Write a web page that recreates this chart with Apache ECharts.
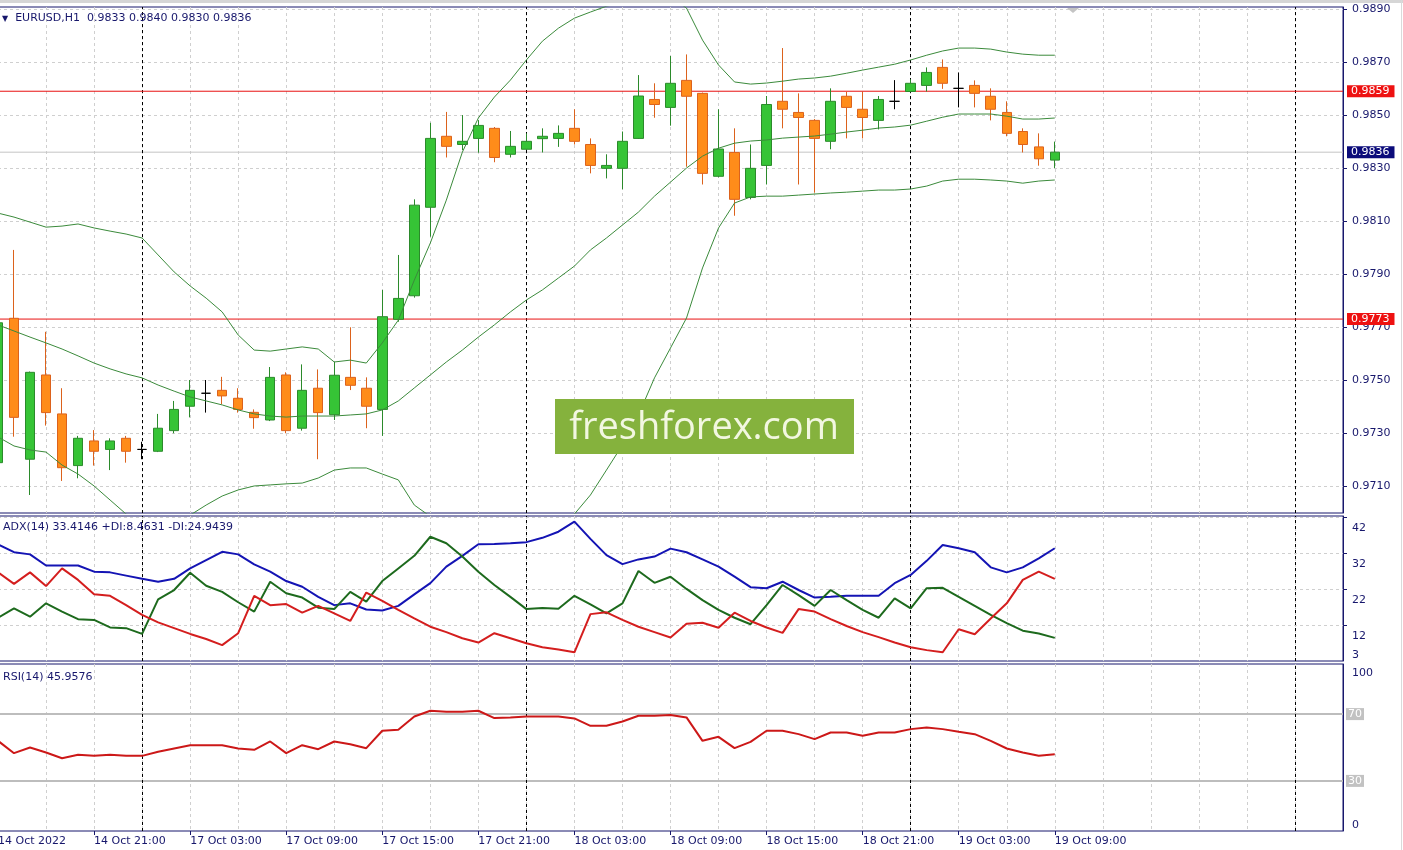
<!DOCTYPE html>
<html><head><meta charset="utf-8">
<script src="https://cdn.jsdelivr.net/npm/echarts@6/dist/echarts.min.js"></script>
<style>html,body{margin:0;padding:0;background:#fff}#c{width:1403px;height:850px}</style>
</head><body><div id="c"></div>
<script>
const categories = [
'14 Oct 15:00','14 Oct 16:00','14 Oct 17:00','14 Oct 18:00','14 Oct 19:00','14 Oct 20:00','14 Oct 21:00','14 Oct 22:00','14 Oct 23:00',
'17 Oct 00:00','17 Oct 01:00','17 Oct 02:00','17 Oct 03:00','17 Oct 04:00','17 Oct 05:00','17 Oct 06:00','17 Oct 07:00','17 Oct 08:00','17 Oct 09:00','17 Oct 10:00','17 Oct 11:00','17 Oct 12:00','17 Oct 13:00','17 Oct 14:00','17 Oct 15:00','17 Oct 16:00','17 Oct 17:00','17 Oct 18:00','17 Oct 19:00','17 Oct 20:00','17 Oct 21:00','17 Oct 22:00','17 Oct 23:00',
'18 Oct 00:00','18 Oct 01:00','18 Oct 02:00','18 Oct 03:00','18 Oct 04:00','18 Oct 05:00','18 Oct 06:00','18 Oct 07:00','18 Oct 08:00','18 Oct 09:00','18 Oct 10:00','18 Oct 11:00','18 Oct 12:00','18 Oct 13:00','18 Oct 14:00','18 Oct 15:00','18 Oct 16:00','18 Oct 17:00','18 Oct 18:00','18 Oct 19:00','18 Oct 20:00','18 Oct 21:00','18 Oct 22:00','18 Oct 23:00',
'19 Oct 00:00','19 Oct 01:00','19 Oct 02:00','19 Oct 03:00','19 Oct 04:00','19 Oct 05:00','19 Oct 06:00','19 Oct 07:00','19 Oct 08:00','19 Oct 09:00','19 Oct 10:00','19 Oct 11:00','19 Oct 12:00','19 Oct 13:00','19 Oct 14:00','19 Oct 15:00','19 Oct 16:00','19 Oct 17:00','19 Oct 18:00','19 Oct 19:00','19 Oct 20:00','19 Oct 21:00','19 Oct 22:00','19 Oct 23:00',
'20 Oct 00:00','20 Oct 01:00','20 Oct 02:00','20 Oct 03:00'];

const open = [0.97188,0.97733,0.97201,0.97519,0.97372,0.97177,0.97270,0.97238,0.97280,0.97238,
0.97231,0.97309,0.97401,0.97450,0.97461,0.97431,0.97378,0.97349,0.97519,0.97318,
0.97469,0.97369,0.97510,0.97469,0.97389,0.97729,0.97818,0.98152,0.98420,0.98389,
0.98412,0.98450,0.98352,0.98371,0.98411,0.98412,0.98450,0.98389,0.98299,0.98299,
0.98412,0.98559,0.98529,0.98631,0.98582,0.98269,0.98359,0.98189,0.98310,0.98552,
0.98510,0.98480,0.98401,0.98571,0.98522,0.98480,0.98552,0.98589,0.98612,0.98680,
0.98601,0.98612,0.98571,0.98510,0.98438,0.98380,0.98330];
const close = [0.97716,0.97359,0.97529,0.97377,0.97169,0.97280,0.97231,0.97270,0.97231,0.97238,
0.97318,0.97389,0.97461,0.97450,0.97440,0.97389,0.97358,0.97510,0.97309,0.97461,
0.97377,0.97518,0.97480,0.97401,0.97739,0.97808,0.98160,0.98412,0.98382,0.98401,
0.98461,0.98340,0.98382,0.98401,0.98420,0.98431,0.98401,0.98310,0.98310,0.98401,
0.98572,0.98540,0.98620,0.98571,0.98280,0.98372,0.98182,0.98299,0.98540,0.98522,
0.98491,0.98412,0.98552,0.98529,0.98491,0.98559,0.98552,0.98620,0.98661,0.98620,
0.98601,0.98582,0.98522,0.98431,0.98389,0.98335,0.98360];
const low = [0.97170,0.97286,0.97066,0.97328,0.97119,0.97129,0.97177,0.97160,0.97188,0.97201,
0.97228,0.97299,0.97359,0.97377,0.97409,0.97377,0.97316,0.97345,0.97299,0.97309,
0.97201,0.97349,0.97462,0.97318,0.97289,0.97720,0.97811,0.98041,0.98340,0.98368,
0.98358,0.98322,0.98340,0.98368,0.98359,0.98380,0.98389,0.98280,0.98261,0.98220,
0.98410,0.98490,0.98460,0.98305,0.98238,0.98265,0.98120,0.98182,0.98238,0.98450,
0.98238,0.98207,0.98371,0.98412,0.98412,0.98446,0.98522,0.98586,0.98589,0.98599,
0.98529,0.98529,0.98480,0.98420,0.98359,0.98309,0.98300];
const high = [0.97740,0.97991,0.97532,0.97682,0.97469,0.97289,0.97311,0.97280,0.97289,0.97267,
0.97372,0.97421,0.97500,0.97500,0.97512,0.97469,0.97389,0.97549,0.97529,0.97559,
0.97540,0.97569,0.97699,0.97510,0.97840,0.97972,0.98182,0.98471,0.98512,0.98500,
0.98481,0.98455,0.98440,0.98431,0.98450,0.98461,0.98522,0.98412,0.98352,0.98438,
0.98651,0.98620,0.98723,0.98729,0.98585,0.98522,0.98450,0.98389,0.98572,0.98753,
0.98582,0.98485,0.98601,0.98588,0.98588,0.98572,0.98632,0.98635,0.98680,0.98710,
0.98661,0.98631,0.98601,0.98552,0.98450,0.98431,0.98400];

const bbUpper = [0.98130,0.98115,0.98096,0.98077,0.98081,0.98089,0.98074,0.98062,0.98051,0.98036,
0.97972,0.97908,0.97855,0.97809,0.97757,0.97670,0.97613,0.97609,0.97617,0.97625,
0.97617,0.97568,0.97575,0.97564,0.97640,0.97726,0.97877,0.98017,0.98179,0.98360,
0.98489,0.98568,0.98632,0.98708,0.98779,0.98828,0.98866,0.98889,0.98911,0.98926,
0.98945,0.98953,0.98945,0.98904,0.98783,0.98689,0.98625,0.98617,0.98621,0.98628,
0.98636,0.98640,0.98647,0.98658,0.98670,0.98681,0.98692,0.98708,0.98726,0.98742,
0.98753,0.98753,0.98749,0.98738,0.98730,0.98726,0.98726];
const bbMiddle = [0.97708,0.97685,0.97662,0.97640,0.97617,0.97591,0.97564,0.97542,0.97523,0.97508,
0.97481,0.97458,0.97436,0.97421,0.97406,0.97387,0.97372,0.97364,0.97360,0.97364,
0.97364,0.97364,0.97368,0.97372,0.97387,0.97421,0.97470,0.97519,0.97568,0.97613,
0.97662,0.97708,0.97757,0.97802,0.97840,0.97885,0.97930,0.97991,0.98036,0.98085,
0.98134,0.98194,0.98247,0.98300,0.98345,0.98375,0.98394,0.98402,0.98406,0.98413,
0.98417,0.98421,0.98428,0.98436,0.98443,0.98451,0.98455,0.98462,0.98477,0.98492,
0.98504,0.98504,0.98504,0.98496,0.98485,0.98485,0.98489];
const bbLower = [0.97285,0.97251,0.97236,0.97228,0.97179,0.97145,0.97100,0.97047,0.96994,0.96965,
0.96960,0.96970,0.96990,0.97028,0.97062,0.97085,0.97100,0.97104,0.97108,0.97111,
0.97130,0.97160,0.97168,0.97168,0.97145,0.97123,0.97028,0.96985,0.96957,0.96866,
0.96835,0.96848,0.96882,0.96896,0.96901,0.96942,0.96994,0.97066,0.97160,0.97255,
0.97368,0.97508,0.97621,0.97734,0.97923,0.98074,0.98168,0.98191,0.98194,0.98194,
0.98198,0.98202,0.98206,0.98209,0.98213,0.98217,0.98217,0.98221,0.98232,0.98251,
0.98258,0.98258,0.98255,0.98251,0.98243,0.98251,0.98255];

const adx = [34.5,32.3,31.7,28.6,28.6,28.6,26.9,26.7,25.8,24.9,
24.1,24.9,27.8,30.1,32.4,31.7,28.9,26.9,24.3,22.7,
19.9,17.6,18.1,16.4,16.1,17.4,20.6,23.7,28.3,31.3,
34.5,34.6,34.8,35.1,36.3,38.0,40.8,36.0,31.5,29.0,
30.3,31.1,33.3,32.3,30.3,28.3,25.5,22.6,22.3,24.1,
21.8,19.7,19.9,20.2,20.2,20.2,23.7,26.0,29.9,34.3,
33.4,32.3,28.1,26.7,28.1,30.6,33.4];
const plusDI = [14.1,16.7,14.4,18.1,15.8,13.7,13.5,11.4,11.2,9.6,
19.2,21.8,26.6,23.0,21.3,18.4,15.8,24.1,20.9,19.7,
16.9,16.5,21.3,18.6,24.3,27.8,31.3,36.6,34.8,31.1,
26.9,23.2,19.9,16.5,16.8,16.6,20.2,17.8,15.3,18.1,
27.1,23.8,25.5,22.1,19.0,16.3,14.1,12.3,17.6,23.2,
20.4,17.4,21.8,19.0,16.3,14.1,19.5,16.7,22.3,22.4,
19.9,17.4,14.9,12.6,10.5,9.7,8.5];
const minusDI = [26.7,23.5,26.7,22.9,27.8,24.6,20.6,20.2,17.6,14.9,
12.8,11.2,9.6,8.2,6.5,9.8,20.2,17.6,17.9,15.5,
17.4,15.3,13.2,21.1,18.8,16.3,13.9,11.6,10.1,8.4,
7.2,9.8,8.4,7.0,5.9,5.3,4.5,15.1,15.6,13.5,
11.6,10.1,8.6,12.4,12.7,11.3,15.5,13.2,11.4,9.9,
16.5,15.8,13.7,11.8,10.1,8.7,7.2,5.9,5.1,4.5,
10.9,9.5,13.9,18.1,24.6,26.9,24.9];
const rsi = [54.0,46.6,50.0,47.0,43.6,45.6,45.0,45.6,45.0,45.0,
47.4,49.4,51.4,51.4,51.4,49.4,48.6,53.6,46.6,51.4,
49.0,53.6,52.0,49.6,60.0,60.6,68.6,72.0,71.4,71.4,
72.0,67.6,68.0,68.6,68.6,68.6,67.4,63.0,63.0,65.6,
69.0,69.0,69.4,68.0,54.0,56.4,49.6,53.4,60.0,60.0,
58.0,55.0,59.0,59.0,57.0,59.0,59.0,61.0,62.0,61.0,
59.4,58.0,54.0,49.4,47.0,45.0,46.0];

const priceTicks = [0.9710,0.9730,0.9750,0.9770,0.9790,0.9810,0.9830,0.9850,0.9870,0.9890];
const adxTicks = [42,32,22,12];
const adxBottomTick = [3];
const xLabelIdx = [0,6,12,18,24,30,36,42,48,54,60,66];
const firstLabel = '14 Oct 2022';
const daySeparators = ['17 Oct 00:00','18 Oct 00:00','19 Oct 00:00','20 Oct 00:00'];
const lastPrice = 0.9836, resistance = 0.9859, support = 0.9773;
const rsiLevels = [70, 30];
const titleMain = 'EURUSD,H1  0.9833 0.9840 0.9830 0.9836';
const titleAdx = 'ADX(14) 33.4146 +DI:8.4631 -DI:24.9439';
const titleRsi = 'RSI(14) 45.9576';

const FONT = 'DejaVu Sans';
const NAVY = '#17176c';
const RED = '#e81010';
const gridDash = {color:'#cfcfcf', type:[3,3], width:1};

const candleData = open.map((o,i)=>[o, close[i], low[i], high[i]]);
function sepLines(){ return daySeparators.map(d=>({xAxis:d, lineStyle:{color:'#000', type:[3,3], width:1}, label:{show:false}})); }

function xAxisFor(gi, show){
  return {type:'category', gridIndex:gi, data:categories, boundaryGap:false,
    axisLine:{show:false},
    axisTick:{show:show, interval:(i)=>xLabelIdx.indexOf(i)>=0, length:4, lineStyle:{color:NAVY}},
    axisLabel:{show:show, interval:(i)=>xLabelIdx.indexOf(i)>=0, formatter:(v,i)=> i===0?firstLabel:v,
      align:'left', margin:5, color:NAVY, fontFamily:FONT, fontSize:11},
    splitLine:{show:true, interval:(i)=> i%3===0, lineStyle:gridDash}};
}
const lbl = {fontFamily:FONT, fontSize:11, color:NAVY};
// horizontal price level drawn as a two-point line across the whole time axis
function levelSeries(name, value, color, bg, z){
  return {type:'line', name:name, xAxisIndex:0, yAxisIndex:0, z:z, silent:true,
    data:[[categories[0], value],[categories[categories.length-1], value]],
    showSymbol:false, symbol:'none', lineStyle:{color:color, width:1, type:'solid'},
    endLabel:{show:true, distance:4, formatter:()=>value.toFixed(4), backgroundColor:bg, color:'#fff',
      padding:[1,5,0,4], fontFamily:FONT, fontSize:11}};
}

const option = {
  animation:false,
  backgroundColor:'#fff',
  textStyle:{fontFamily:FONT},
  title:[
    {text:'{a|▼}  '+titleMain, left:2, top:13, padding:0,
      textStyle:{fontFamily:FONT, fontSize:11, fontWeight:'normal', color:NAVY,
        rich:{a:{fontSize:8, color:NAVY, fontFamily:FONT}}}},
    {text:titleAdx, left:3, top:522, padding:0, textStyle:{fontFamily:FONT, fontSize:11, fontWeight:'normal', color:NAVY}},
    {text:titleRsi, left:3, top:672, padding:0, textStyle:{fontFamily:FONT, fontSize:11, fontWeight:'normal', color:NAVY}}
  ],
  grid:[
    {left:-2, width:1345, top:7, height:506, show:true, borderColor:NAVY, borderWidth:1, outerBoundsMode:'none'},
    {left:-2, width:1345, top:516, height:145, show:true, borderColor:NAVY, borderWidth:1, outerBoundsMode:'none'},
    {left:-2, width:1345, top:664, height:167, show:true, borderColor:NAVY, borderWidth:1, outerBoundsMode:'none'}
  ],
  xAxis:[xAxisFor(0,false), xAxisFor(1,false), xAxisFor(2,true)],
  yAxis:[
    {type:'value', gridIndex:0, position:'right', min:0.96998, max:0.98908,
      axisLine:{show:true, lineStyle:{color:NAVY}},
      axisTick:{show:true, customValues:priceTicks, length:4, lineStyle:{color:NAVY}},
      axisLabel:Object.assign({customValues:priceTicks, formatter:(v)=>v.toFixed(4), margin:9}, lbl),
      splitLine:{show:true, lineStyle:gridDash}},
    {type:'value', gridIndex:1, position:'right', min:2.08, max:42.36,
      axisLine:{show:true, lineStyle:{color:NAVY}},
      axisTick:{show:true, customValues:adxTicks, length:4, lineStyle:{color:NAVY}},
      axisLabel:Object.assign({customValues:adxTicks, verticalAlign:'top', margin:9, padding:[5,0,0,0]}, lbl),
      splitLine:{show:true, lineStyle:gridDash}},
    {type:'value', gridIndex:1, position:'right', min:2.08, max:42.36,
      axisLine:{show:false}, axisTick:{show:false}, splitLine:{show:false},
      axisLabel:Object.assign({customValues:adxBottomTick, verticalAlign:'bottom', margin:9, padding:[0,0,-3,0]}, lbl)},
    {type:'value', gridIndex:2, position:'right', min:0, max:100,
      axisLine:{show:true, lineStyle:{color:NAVY}}, axisTick:{show:false}, splitLine:{show:false},
      axisLabel:Object.assign({customValues:[100], verticalAlign:'top', margin:9, padding:[4,0,0,0]}, lbl)},
    {type:'value', gridIndex:2, position:'right', min:0, max:100,
      axisLine:{show:false}, axisTick:{show:false}, splitLine:{show:false},
      axisLabel:Object.assign({customValues:[0], verticalAlign:'bottom', margin:9}, lbl)}
  ],
  series:[
    levelSeries('last', lastPrice, '#c4c4c4', '#0b0b7a', 2),
    levelSeries('resistance', resistance, RED, '#ee1111', 3),
    levelSeries('support', support, RED, '#ee1111', 3),
    {type:'candlestick', name:'EURUSD', xAxisIndex:0, yAxisIndex:0, data:candleData, barWidth:10, z:4,
      itemStyle:{color:'#36C436', color0:'#FF8C1A', borderColor:'#2B8A2B', borderColor0:'#DC621C', borderColorDoji:'#000000', borderWidth:1},
      markLine:{silent:true, symbol:'none', z:3, animation:false, data:sepLines()}},
    {type:'line', name:'BB upper', xAxisIndex:0, yAxisIndex:0, data:bbUpper, showSymbol:false, z:5, lineStyle:{color:'#3b8a3b', width:1}},
    {type:'line', name:'BB middle', xAxisIndex:0, yAxisIndex:0, data:bbMiddle, showSymbol:false, z:5, lineStyle:{color:'#3b8a3b', width:1}},
    {type:'line', name:'BB lower', xAxisIndex:0, yAxisIndex:0, data:bbLower, showSymbol:false, z:5, lineStyle:{color:'#3b8a3b', width:1}},
    {type:'line', name:'ADX', xAxisIndex:1, yAxisIndex:1, data:adx, showSymbol:false, z:5, lineStyle:{color:'#1414b4', width:2},
      markLine:{silent:true, symbol:'none', z:3, animation:false, data:sepLines()}},
    {type:'line', name:'+DI', xAxisIndex:1, yAxisIndex:1, data:plusDI, showSymbol:false, z:5, lineStyle:{color:'#1d6a1d', width:2}},
    {type:'line', name:'-DI', xAxisIndex:1, yAxisIndex:1, data:minusDI, showSymbol:false, z:5, lineStyle:{color:'#d41e1e', width:2}},
    {type:'line', name:'RSI', xAxisIndex:2, yAxisIndex:3, data:rsi, showSymbol:false, z:5, lineStyle:{color:'#cc1818', width:2},
      markLine:{silent:true, symbol:'none', z:3, animation:false,
        data:rsiLevels.map(v=>({yAxis:v, lineStyle:{color:'#bdbdbd', type:'solid', width:2},
          label:{show:true, position:'end', distance:3, formatter:String(v), backgroundColor:'#c2c2c2', color:'#fff', padding:[1,2,0,2], fontFamily:FONT, fontSize:11}}))
          .concat(sepLines())}}
  ],
  graphic:[
    {type:'rect', shape:{x:0,y:0,width:1403,height:3}, style:{fill:'#d6d6d6'}, z:50, silent:true},
    {type:'polygon', shape:{points:[[1067,8],[1079,8],[1073,13]]}, style:{fill:'#c4c4c4'}, z:50, silent:true},
    {type:'line', shape:{x1:1401.5,y1:0,x2:1401.5,y2:850}, style:{stroke:'#dadada', lineWidth:1}, z:50, silent:true},
    {type:'rect', shape:{x:555,y:399,width:299,height:55}, style:{fill:'#85B23D'}, z:100, silent:true},
    {type:'text', x:704, y:428, style:{text:'freshforex.com', fill:'#F2F7E0', font:'38px "Open Sans"', align:'center', verticalAlign:'middle'}, z:101, silent:true}
  ]
};
const chart = echarts.init(document.getElementById('c'), null, {renderer:'canvas'});
chart.setOption(option);
</script></body></html>
